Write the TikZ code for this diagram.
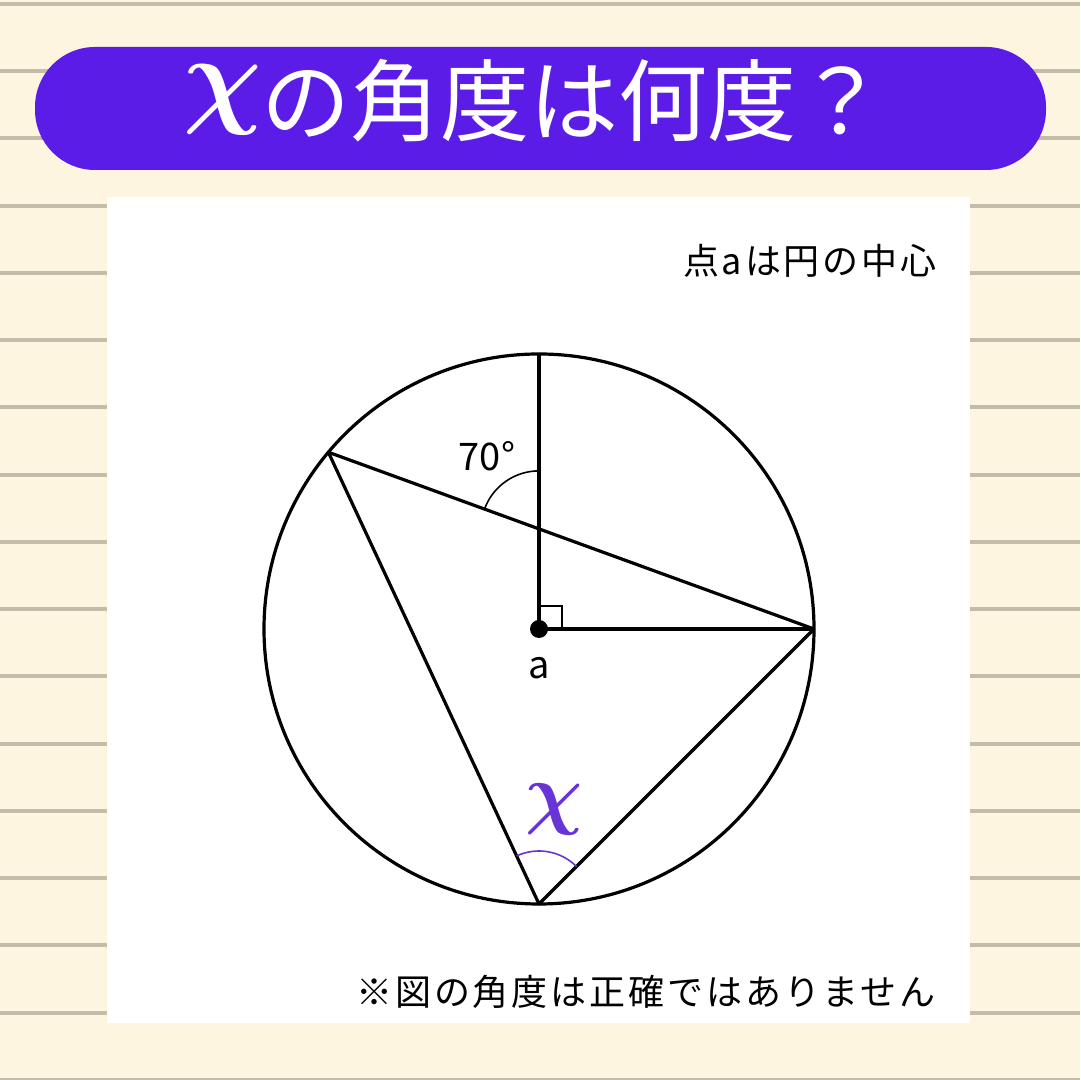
\documentclass[tikz,border=0pt]{standalone}
\usepackage{amsmath}
\usepackage{fontspec}
\usepackage{xcolor}
\usepackage{tikz}
\usetikzlibrary{positioning}
\newfontfamily\jpfont{Noto Sans CJK JP}
\newfontfamily\jpwide{Noto Sans CJK JP}[LetterSpace=8]
\definecolor{cream}{RGB}{254,245,224}
\definecolor{ruling}{RGB}{196,187,168}
\definecolor{violet}{RGB}{92,28,232}
\definecolor{markviolet}{RGB}{104,52,214}
\newcommand{\bigchi}[1]{\raisebox{\depth}{\scalebox{#1}{$\boldsymbol{\chi}$}}}
\tikzset{
figline/.style={
  line width=1.6pt,
  line join=round
  },
markline/.style={line width=0.8pt},
tag/.style={
  inner sep=0pt,
  font=\jpwide\fontsize{18}{22}\selectfont
  }
}

\begin{document}
\begin{tikzpicture}[x=0.5pt,y=0.5pt]
\useasboundingbox (0,0) rectangle (1080,1080);
\fill[cream] (0,0) rectangle (1080,1080);
\foreach \k in {0,...,16}
  \draw[ruling, line width=2pt] (0,{1076-67.25*\k}) -- (1080,{1076-67.25*\k});
% title bar
\fill[violet, rounded corners=30pt] (35,910) rectangle (1046,1033);
\node[text=white, font=\jpfont\fontsize{44.6}{50}\selectfont, anchor=base west] (title) at (176,945)
  {\bigchi{2.2}の角度は何度？};
% white panel
\fill[white] (107,57) rectangle (970,883);
\node[tag, anchor=east] (note) at (937,819) {点aは円の中心};
\node[tag, anchor=east] (warn) at (936,88) {※図の角度は正確ではありません};
% circle and points
\coordinate (a) at (539,451);
\coordinate (t) at ([shift={(90:275)}]a);
\coordinate (r) at ([shift={(0:275)}]a);
\coordinate (ul) at ([shift={(140:275)}]a);
\coordinate (bt) at ([shift={(270:275)}]a);
\coordinate (p) at (intersection of a--t and ul--r);
\draw[figline] (a) circle[radius=275];
\draw[figline] (a) -- (t);
\draw[figline] (a) -- (r);
\draw[figline] (ul) -- (r);
\draw[figline] (ul) -- (bt) -- (r);
% angle marks
\draw[markline] ([shift={(0,23)}]a) -| ([shift={(23,0)}]a);
\draw[markline] (p) ++(90:58) arc[start angle=90, end angle=160, radius=58];
\draw[markline, markviolet] (bt) ++(45:53) arc[start angle=45, end angle=115, radius=53];
\fill (a) circle[radius=9];
\node[tag, font=\jpfont\fontsize{19}{22}\selectfont] (deg) at (487,624) {70°};
\node[tag, font=\jpfont\fontsize{19}{22}\selectfont, below=14pt of a] (alab) {a};
\node[text=markviolet, inner sep=0pt] (xlab) at (554,270) {\bigchi{4}};
\end{tikzpicture}
\end{document}
